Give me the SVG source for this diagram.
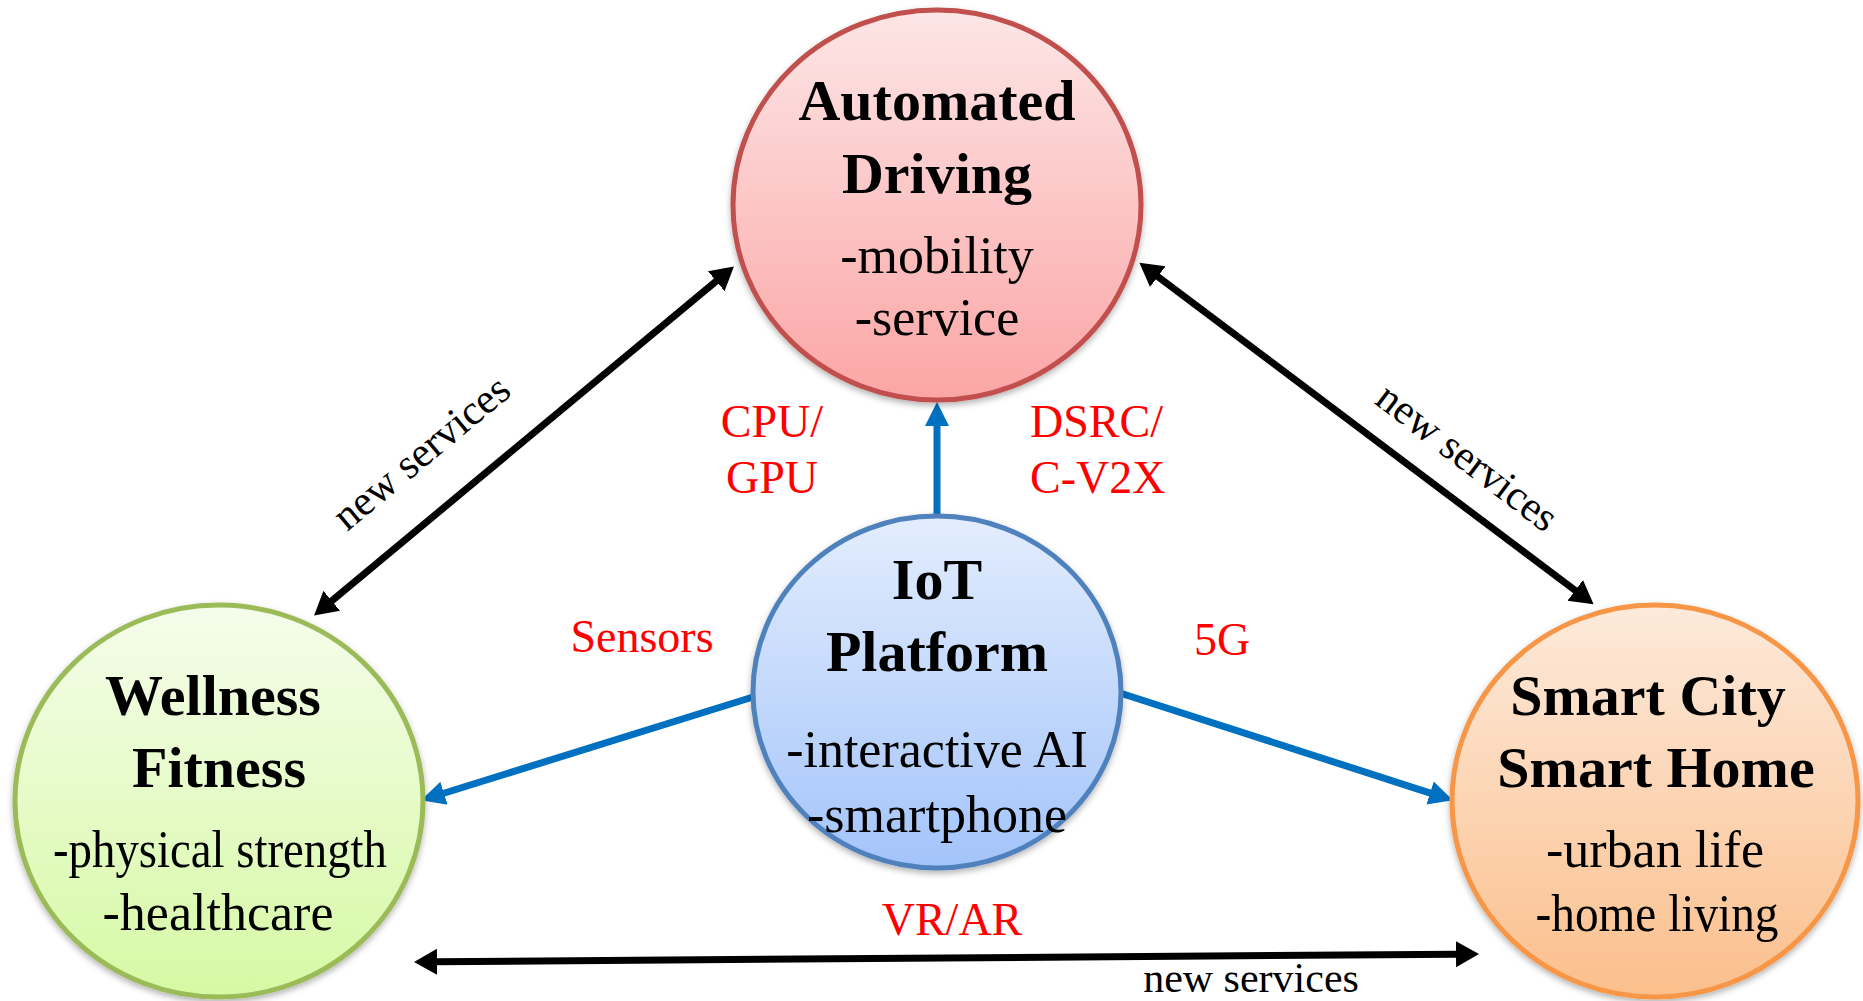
<svg xmlns="http://www.w3.org/2000/svg" width="1863" height="1001" viewBox="0 0 1863 1001">
<style>
  .t { font-family: "Liberation Serif", "Times New Roman", serif; fill: #000; text-anchor: middle; }
  .b { font-weight: bold; font-size: 58px; }
  .r { font-size: 52px; }
  .red { font-family: "Liberation Serif", "Times New Roman", serif; fill: #FF0000; font-size: 46px; }
  .ns { font-family: "Liberation Serif", "Times New Roman", serif; fill: #000; font-size: 42px; text-anchor: middle; }
  .node { stroke-width: 5; filter: url(#sh); }
  .blk { stroke: #000; stroke-width: 7; fill: none; marker-start: url(#ab); marker-end: url(#ab); }
  .blu { stroke: #0070C0; stroke-width: 7; fill: none; marker-end: url(#au); }
</style>
<defs>
  <filter id="sh" x="-10%" y="-10%" width="120%" height="125%">
    <feDropShadow dx="0" dy="3" stdDeviation="3" flood-color="#000" flood-opacity="0.3"/>
  </filter>
  <linearGradient id="gr" x1="0" y1="0" x2="0" y2="1">
    <stop offset="0" stop-color="#FDE6E6"/>
    <stop offset="1" stop-color="#FBA5A5"/>
  </linearGradient>
  <linearGradient id="gb" x1="0" y1="0" x2="0" y2="1">
    <stop offset="0" stop-color="#E3EDFD"/>
    <stop offset="1" stop-color="#A3C4FA"/>
  </linearGradient>
  <linearGradient id="gg" x1="0" y1="0" x2="0" y2="1">
    <stop offset="0" stop-color="#F5FDEB"/>
    <stop offset="1" stop-color="#D6F9A4"/>
  </linearGradient>
  <linearGradient id="go" x1="0" y1="0" x2="0" y2="1">
    <stop offset="0" stop-color="#FDEADB"/>
    <stop offset="1" stop-color="#FBBF8C"/>
  </linearGradient>
  <marker id="ab" viewBox="0 -14 25 28" refX="1" refY="0" markerUnits="userSpaceOnUse" markerWidth="25" markerHeight="28" orient="auto-start-reverse">
    <path d="M0,-13 L23,0 L0,13 z" fill="#000"/>
  </marker>
  <marker id="au" viewBox="0 -13 26 26" refX="1" refY="0" markerUnits="userSpaceOnUse" markerWidth="26" markerHeight="26" orient="auto">
    <path d="M0,-12 L24,0 L0,12 z" fill="#0070C0"/>
  </marker>
</defs>

<g id="connectors">
  <line class="blk" x1="331" y1="601.5" x2="717" y2="280.5"/>
  <line class="blk" x1="1157" y1="276" x2="1576" y2="591"/>
  <line class="blk" x1="436" y1="961.8" x2="1457" y2="954.2"/>
  <line class="blu" x1="937" y1="517" x2="937" y2="425"/>
  <line class="blu" x1="753" y1="697" x2="443" y2="793.5"/>
  <line class="blu" x1="1120" y1="693" x2="1431" y2="793.3"/>
  <text class="ns" x="430" y="463" transform="rotate(-39.7 430 463)">new services</text>
  <text class="ns" x="1459" y="468" transform="rotate(37.3 1459 468)">new services</text>
  <text class="ns" x="1251" y="992">new services</text>
  <text class="red" x="772" y="437" text-anchor="middle">CPU/</text>
  <text class="red" x="772" y="493" text-anchor="middle">GPU</text>
  <text class="red" x="1030" y="437">DSRC/</text>
  <text class="red" x="1030" y="493">C-V2X</text>
  <text class="red" x="642" y="652" text-anchor="middle">Sensors</text>
  <text class="red" x="1222" y="655" text-anchor="middle">5G</text>
  <text class="red" x="952" y="935" text-anchor="middle">VR/AR</text>
</g>

<g id="automated-driving">
  <ellipse class="node" cx="937" cy="205" rx="204" ry="195" fill="url(#gr)" stroke="#C0504D"/>
  <text class="t b" x="937" y="120">Automated</text>
  <text class="t b" x="937" y="193">Driving</text>
  <text class="t r" x="937" y="273">-mobility</text>
  <text class="t r" x="937" y="335">-service</text>
</g>

<g id="iot-platform">
  <ellipse class="node" cx="937" cy="692" rx="184" ry="176" fill="url(#gb)" stroke="#4F81BD"/>
  <text class="t b" x="937" y="599">IoT</text>
  <text class="t b" x="937" y="671">Platform</text>
  <text class="t r" x="937" y="767">-interactive AI</text>
  <text class="t r" x="937" y="832">-smartphone</text>
</g>

<g id="wellness-fitness">
  <ellipse class="node" cx="219" cy="801" rx="204" ry="196" fill="url(#gg)" stroke="#9BBB59"/>
  <text class="t b" x="213" y="715">Wellness</text>
  <text class="t b" x="219" y="787">Fitness</text>
  <text class="t r" x="220" y="867" textLength="334" lengthAdjust="spacingAndGlyphs">-physical strength</text>
  <text class="t r" x="218" y="930">-healthcare</text>
</g>

<g id="smart-city-home">
  <ellipse class="node" cx="1655" cy="801" rx="203" ry="196" fill="url(#go)" stroke="#F79646"/>
  <text class="t b" x="1648" y="715">Smart City</text>
  <text class="t b" x="1656" y="787">Smart Home</text>
  <text class="t r" x="1655" y="867">-urban life</text>
  <text class="t r" x="1657" y="931" textLength="243" lengthAdjust="spacingAndGlyphs">-home living</text>
</g>
</svg>
